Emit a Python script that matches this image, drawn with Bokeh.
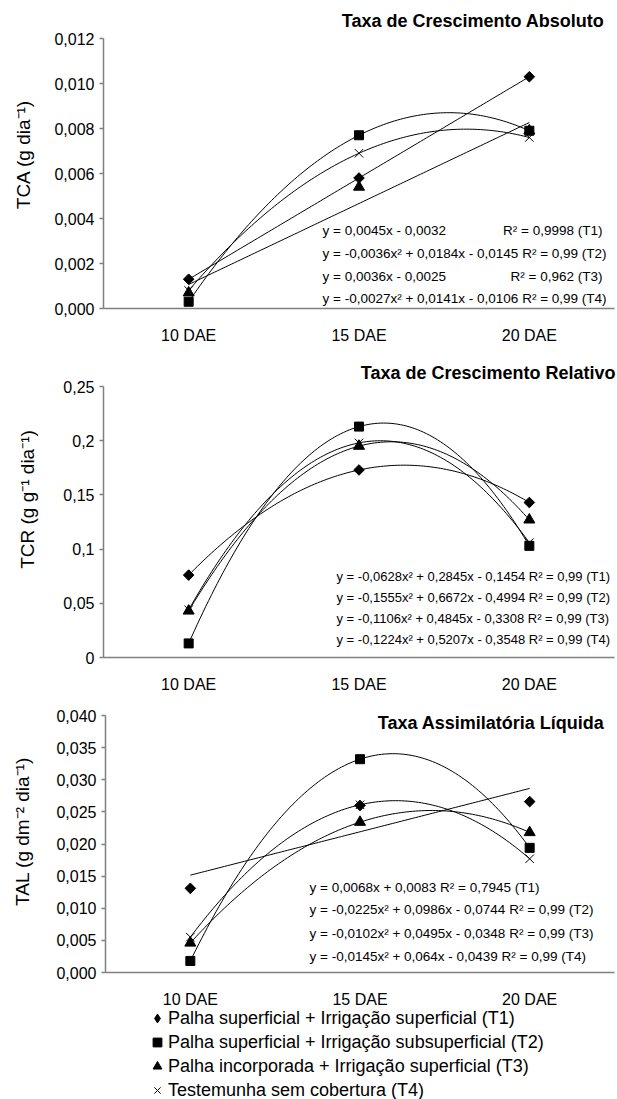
import numpy as np
from bokeh.plotting import figure
from bokeh.layouts import column
from bokeh.models import (Range1d, FixedTicker, CustomJSTickFormatter, Label,
                          Legend, LegendItem, ColumnDataSource)
from bokeh.embed import file_html
from bokeh.resources import INLINE

# ---------------- data ----------------
categories = ["10 DAE", "15 DAE", "20 DAE"]
x_pos = [1, 2, 3]

tca_t1 = [0.0013, 0.0058, 0.0103]
tca_t2 = [0.0003, 0.0077, 0.0079]
tca_t3 = [0.0007, 0.0054, 0.0079]
tca_t4 = [0.0008, 0.0069, 0.0076]

tcr_t1 = [0.076, 0.173, 0.143]
tcr_t2 = [0.013, 0.213, 0.103]
tcr_t3 = [0.043, 0.195, 0.127]
tcr_t4 = [0.044, 0.198, 0.106]

tal_t1 = [0.0131, 0.0260, 0.0266]
tal_t2 = [0.0018, 0.0332, 0.0194]
tal_t3 = [0.0046, 0.0234, 0.0218]
tal_t4 = [0.0055, 0.0261, 0.0177]

tca_deg = [1, 2, 1, 2]
tcr_deg = [2, 2, 2, 2]
tal_deg = [1, 2, 2, 2]

tca_ticks = [0.0, 0.002, 0.004, 0.006, 0.008, 0.010, 0.012]
tcr_ticks = [0.0, 0.05, 0.1, 0.15, 0.2, 0.25]
tal_ticks = [0.0, 0.005, 0.010, 0.015, 0.020, 0.025, 0.030, 0.035, 0.040]

legend_labels = [
    "Palha superficial + Irrigação superficial (T1)",
    "Palha superficial + Irrigação subsuperficial (T2)",
    "Palha incorporada + Irrigação superficial (T3)",
    "Testemunha sem cobertura (T4)",
]

tca_eq = [
    ("y = 0,0045x - 0,0032", "R² = 0,9998 (T1)"),
    ("y = -0,0036x² + 0,0184x - 0,0145 R² = 0,99 (T2)", None),
    ("y = 0,0036x - 0,0025", "R² = 0,962 (T3)"),
    ("y = -0,0027x² + 0,0141x - 0,0106 R² = 0,99 (T4)", None),
]
tcr_eq = [
    ("y = -0,0628x² + 0,2845x - 0,1454 R² = 0,99 (T1)", None),
    ("y = -0,1555x² + 0,6672x - 0,4994 R² = 0,99 (T2)", None),
    ("y = -0,1106x² + 0,4845x - 0,3308 R² = 0,99 (T3)", None),
    ("y = -0,1224x² + 0,5207x - 0,3548 R² = 0,99 (T4)", None),
]
tal_eq = [
    ("y = 0,0068x + 0,0083 R² = 0,7945 (T1)", None),
    ("y = -0,0225x² + 0,0986x - 0,0744 R² = 0,99 (T2)", None),
    ("y = -0,0102x² + 0,0495x - 0,0348 R² = 0,99 (T3)", None),
    ("y = -0,0145x² + 0,064x - 0,0439 R² = 0,99 (T4)", None),
]

FONT = "Liberation Sans"
AXIS_COL = "#808080"
markers = [
    dict(marker="square", size=7.5, angle=np.pi / 4),
    dict(marker="square", size=9, angle=0),
    dict(marker="triangle", size=11, angle=0),
    dict(marker="x", size=12, angle=0),
]
legend_markers = ["diamond", "square", "triangle", "x"]

FIG_W = 617


def make_panel(fig_top, height, ft, fb, L, R, ymax, ticks, fmt_code, series, degs,
               title, title_xy, ylabel, ylabel_xy, eqs, eq_left, eq_ys,
               r2_right=None, eq_size="13.5px"):
    ppx = (R - L) / 3.0
    ppy = (fb - ft) / ymax
    x0 = 0.5 - L / ppx
    x1 = 0.5 + (FIG_W - L) / ppx
    y1 = ymax + (ft - fig_top) / ppy
    y0 = -(fig_top + height - fb) / ppy

    def dx(px):
        return 0.5 + (px - L) / ppx

    def dy(py):
        return (fb - py) / ppy

    p = figure(width=FIG_W, height=height, output_backend="svg", toolbar_location=None,
               x_range=Range1d(x0, x1), y_range=Range1d(y0, y1),
               min_border_top=0, min_border_bottom=0,
               min_border_left=0, min_border_right=0)
    p.title.visible = False
    p.grid.visible = False
    p.outline_line_color = None
    p.background_fill_color = "white"
    p.border_fill_color = "white"

    xa = p.xaxis[0]
    xa.fixed_location = 0
    xa.bounds = (0.5, 3.5)
    xa.ticker = FixedTicker(ticks=x_pos)
    xa.formatter = CustomJSTickFormatter(args=dict(labels=categories),
                                         code="return labels[Math.round(tick) - 1];")
    xa.major_tick_line_color = None
    xa.minor_tick_line_color = None
    xa.major_label_standoff = 12
    xa.major_label_text_font = FONT
    xa.major_label_text_font_size = "16px"
    xa.major_label_text_color = "black"
    xa.axis_line_color = AXIS_COL
    xa.axis_line_width = 1.5

    ya = p.yaxis[0]
    ya.fixed_location = 0.5
    ya.bounds = (0, ymax)
    ya.ticker = FixedTicker(ticks=ticks)
    ya.formatter = CustomJSTickFormatter(code=fmt_code)
    ya.minor_tick_line_color = None
    ya.major_tick_in = 0
    ya.major_tick_out = 4
    ya.major_tick_line_color = AXIS_COL
    ya.major_tick_line_width = 1.5
    ya.major_label_standoff = 5
    ya.major_label_text_font = FONT
    ya.major_label_text_font_size = "16px"
    ya.major_label_text_color = "black"
    ya.axis_line_color = AXIS_COL
    ya.axis_line_width = 1.5

    xs = np.linspace(1, 3, 120)
    for vals, deg in zip(series, degs):
        coef = np.polyfit(x_pos, vals, deg)
        p.line(xs, np.polyval(coef, xs), line_color="black", line_width=1)
    for vals, mk in zip(series, markers):
        p.scatter(x_pos, vals, marker=mk["marker"], size=mk["size"], angle=mk["angle"],
                  fill_color="black", line_color="black", line_width=1)

    p.add_layout(Label(x=dx(title_xy[0]), y=dy(title_xy[1]), text=title,
                       text_font=FONT, text_font_size="18px", text_font_style="bold",
                       text_align="right", text_baseline="middle", text_color="black"))
    p.add_layout(Label(x=dx(ylabel_xy[0]), y=dy(ylabel_xy[1]), text=ylabel, angle=np.pi / 2,
                       text_font=FONT, text_font_size="19px",
                       text_align="center", text_baseline="middle", text_color="black"))
    for (left_txt, right_txt), ey in zip(eqs, eq_ys):
        p.add_layout(Label(x=dx(eq_left), y=dy(ey), text=left_txt,
                           text_font=FONT, text_font_size=eq_size,
                           text_align="left", text_baseline="middle", text_color="black"))
        if right_txt:
            p.add_layout(Label(x=dx(r2_right), y=dy(ey), text=right_txt,
                               text_font=FONT, text_font_size=eq_size,
                               text_align="right", text_baseline="middle", text_color="black"))
    return p


fmt3 = "return tick.toFixed(3).replace('.', ',');"
fmtg = "return (Math.round(tick * 100) / 100).toString().replace('.', ',');"

p1 = make_panel(0, 345, 38, 308, 103, 614, 0.012, tca_ticks, fmt3,
                [tca_t1, tca_t2, tca_t3, tca_t4], tca_deg,
                "Taxa de Crescimento Absoluto", (604, 20),
                "TCA (g dia⁻¹)", (23, 154),
                tca_eq, 322, [230, 253, 276, 298], r2_right=602)

p2 = make_panel(345, 355, 386, 657, 103, 614, 0.25, tcr_ticks, fmtg,
                [tcr_t1, tcr_t2, tcr_t3, tcr_t4], tcr_deg,
                "Taxa de Crescimento Relativo", (615, 372),
                "TCR (g g⁻¹ dia⁻¹)", (27, 499),
                tcr_eq, 336, [576, 597, 618, 639], eq_size="13px")

p3 = make_panel(700, 399, 715, 972, 105, 614, 0.04, tal_ticks, fmt3,
                [tal_t1, tal_t2, tal_t3, tal_t4], tal_deg,
                "Taxa Assimilatória Líquida", (604, 722),
                "TAL (g dm⁻² dia⁻¹)", (22, 831),
                tal_eq, 309, [887, 909, 933, 956])

# legend-only glyphs: one NaN point each, so nothing is drawn in the plot area
legend_renderers = []
for mk in legend_markers:
    src = ColumnDataSource(data=dict(x=[np.nan], y=[np.nan]))
    legend_renderers.append(p3.scatter("x", "y", source=src, marker=mk, size=10,
                                       fill_color="black", line_color="black",
                                       line_width=1))

items = [LegendItem(label=lab, renderers=[r], index=0)
         for lab, r in zip(legend_labels, legend_renderers)]
legend = Legend(items=items, location=(146, -3), orientation="vertical",
                glyph_width=22, glyph_height=24, label_height=24, spacing=0,
                padding=0, margin=0, label_standoff=0,
                label_text_font=FONT, label_text_font_size="18px",
                label_text_color="black", border_line_color=None,
                background_fill_alpha=0)
p3.add_layout(legend, "center")

layout = column(p1, p2, p3, spacing=0)
open("out.html", "w").write(file_html(layout, INLINE))
